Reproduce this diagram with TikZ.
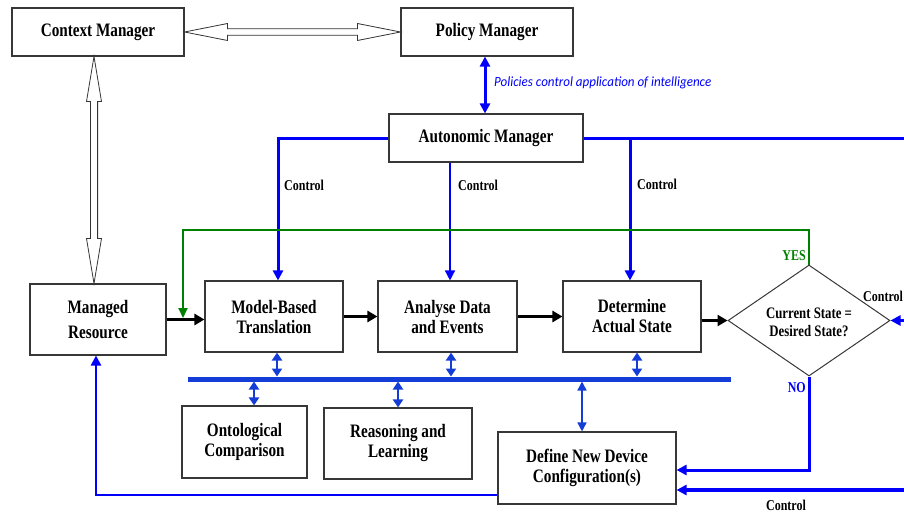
\documentclass[tikz,border=0pt]{standalone}
\usepackage{fontspec}
\setmainfont{Liberation Serif}[FakeStretch=0.8]
\newfontfamily\notefont{Carlito}[FakeStretch=0.93]
\usetikzlibrary{arrows.meta,shapes.geometric,calc}

\definecolor{ctlblue}{RGB}{0,0,250}
\definecolor{busblue}{RGB}{20,60,215}
\definecolor{yesgreen}{RGB}{0,128,0}
\definecolor{edge}{RGB}{55,55,55}

\newcommand\bxfont{\fontsize{19}{20}\selectfont\bfseries}
\newcommand\lblfont{\fontsize{15}{17}\selectfont\bfseries}
\newcommand\dmfont{\fontsize{16}{18}\selectfont\bfseries}

\begin{document}
\begin{tikzpicture}[x=1pt,y=-1pt,
  box/.style={draw=edge, line width=1.1pt, align=center, inner sep=0pt, font=\bxfont},
  ctl/.style={draw=ctlblue, line width=3pt},
  ctlthin/.style={draw=ctlblue, line width=1.5pt},
  tipb/.style={-{Triangle[width=10pt,length=10pt]}},
  flow/.style={draw=black, line width=3pt, -{Triangle[width=11pt,length=10pt]}},
  bus/.style={draw=busblue, line width=5pt},
  busarr/.style={draw=busblue, line width=2.2pt, {Triangle[width=10pt,length=8pt]}-{Triangle[width=10pt,length=8pt]}},
  hollow/.style={draw=black!80, line width=0.8pt, fill=white, line join=miter},
  lbl/.style={font=\lblfont, inner sep=0pt},
]
\useasboundingbox (0,0) rectangle (904,513);

% boxes
\node[box, minimum width=172pt, minimum height=48pt] (cm) at (98,32) {Context Manager};
\node[box, minimum width=172pt, minimum height=48pt] (pm) at (487,32) {Policy Manager};
\node[box, minimum width=194pt, minimum height=48pt] (am) at (486,138) {Autonomic Manager};
\node[box, minimum width=136pt, minimum height=71pt] (mr) at (98,319.5) {Managed\\[5pt]Resource};
\node[box, minimum width=138pt, minimum height=71pt] (mb) at (274,316.5) {Model-Based\\Translation};
\node[box, minimum width=139pt, minimum height=71pt] (ad) at (447.5,316.5) {Analyse Data\\and Events};
\node[box, minimum width=138pt, minimum height=71pt] (da) at (632,316.5) {Determine\\Actual State};
\node[draw=edge, line width=1pt, diamond, minimum width=162pt, minimum height=111pt, inner sep=0pt] (dm) at (809,320.5) {};
\node[font=\dmfont, align=center, inner sep=0pt] (dmt) at (809,322) {Current State =\\Desired State?};
\node[box, minimum width=125pt, minimum height=72pt] (oc) at (244.5,442) {Ontological\\Comparison};
\node[box, minimum width=148pt, minimum height=71pt] (rl) at (398,443.5) {Reasoning and\\Learning};
\node[box, minimum width=178pt, minimum height=72pt] (dn) at (587,468) {Define New Device\\Configuration(s)};

% hollow double arrow between context and policy manager
\coordinate (ha) at (cm.east);
\coordinate (hb) at (pm.west);
\draw[hollow] (ha) -- ($(ha)+(43,-8.5)$) -- ($(ha)+(43,-3.2)$) -- ($(hb)+(-43,-3.2)$)
  -- ($(hb)+(-43,-8.5)$) -- (hb) -- ($(hb)+(-43,8.5)$) -- ($(hb)+(-43,3.2)$)
  -- ($(ha)+(43,3.2)$) -- ($(ha)+(43,8.5)$) -- cycle;

% hollow double arrow between context manager and managed resource
\coordinate (va) at ([xshift=-4pt]cm.south);
\coordinate (vb) at ([xshift=-4pt]mr.north);
\draw[hollow] (va) -- ($(va)+(7.5,45)$) -- ($(va)+(3.6,45)$) -- ($(vb)+(3.6,-45)$)
  -- ($(vb)+(7.5,-45)$) -- (vb) -- ($(vb)+(-7.5,-45)$) -- ($(vb)+(-3.6,-45)$)
  -- ($(va)+(-3.6,45)$) -- ($(va)+(-7.5,45)$) -- cycle;

% policy link
\draw[ctl, {Triangle[width=10pt,length=10pt]}-{Triangle[width=10pt,length=10pt]}] ([xshift=-2pt]pm.south) -- ([xshift=-1pt]am.north);
\node[font=\notefont\itshape\fontsize{14}{16}\selectfont, text=ctlblue, anchor=west, inner sep=0pt] (pol) at (494,83) {Policies control application of intelligence};

% control lines from the autonomic manager
\draw[ctl, tipb] ([yshift=-1pt]am.west) -| ([xshift=4pt]mb.north);
\coordinate (rtop) at (904,139);
\draw[ctl] ([yshift=-1pt]am.east) -- (rtop);
\coordinate (br) at (630,139);
\draw[ctl, tipb] (br) -- (br |- da.north);
\draw[ctlthin, tipb] ([xshift=-36pt]am.south) -- ([xshift=-36pt]am.south |- ad.north);
\node[lbl, anchor=west] (c1) at (284,185) {Control};
\node[lbl, anchor=west] (c2) at (458,185) {Control};
\node[lbl, anchor=west] (c3) at (637,184) {Control};

% main flow
\draw[flow] (mr.east) -- (mr.east -| mb.west);
\draw[flow] (mb.east) -- (ad.west);
\draw[flow] (ad.east) -- (da.west);
\draw[flow] (da.east |- dm.west) -- (dm.west);

% YES feedback
\coordinate (g1) at (809,230);
\coordinate (g2) at (183,230);
\coordinate (g3) at (183,318);
\draw[draw=yesgreen, line width=1.8pt, -{Triangle[width=9pt,length=10pt]}] (dm.north) -- (g1) -- (g2) -- (g3);
\node[lbl, text=yesgreen, anchor=east] (yes) at (806,256) {YES};

% NO branch
\coordinate (noy) at (0,470);
\draw[ctl, tipb] (dm.south) -- (dm.south |- noy) -- (dn.east |- noy);
\node[lbl, text=ctlblue, anchor=east] (no) at (806,388) {NO};

% control inputs from the right
\coordinate (rc1) at (904,320.5);
\draw[ctl, tipb] (rc1) -- (dm.east);
\node[lbl, anchor=west] (c4) at (863,296) {Control};
\coordinate (rc2) at (904,490);
\draw[ctl, line width=3.5pt, tipb] (rc2) -- (rc2 -| dn.east);
\node[lbl] (c5) at (786,505) {Control};

% new configuration back to the managed resource
\coordinate (fb) at (96,495);
\draw[ctl, line width=2.4pt, tipb] (dn.west |- fb) -- (fb) -- (fb |- mr.south);

% knowledge bus
\coordinate (busl) at (188,379);
\coordinate (busr) at (731,379);
\coordinate (bust) at (0,376.5);
\coordinate (busb) at (0,381.5);
\draw[bus] (busl) -- (busr);
\draw[busarr] ([xshift=3pt]mb.south) -- ([xshift=3pt]mb.south |- bust);
\draw[busarr] ([xshift=3.5pt]ad.south) -- ([xshift=3.5pt]ad.south |- bust);
\draw[busarr] ([xshift=5pt]da.south) -- ([xshift=5pt]da.south |- bust);
\draw[busarr] ([xshift=9.5pt]oc.north |- busb) -- ([xshift=9.5pt]oc.north);
\draw[busarr] (rl.north |- busb) -- (rl.north);
\draw[draw=busblue, line width=1.5pt, {Triangle[width=9pt,length=9pt]}-{Triangle[width=9pt,length=9pt]}] ([xshift=-5pt]dn.north |- busb) -- ([xshift=-5pt]dn.north);
\end{tikzpicture}
\end{document}
